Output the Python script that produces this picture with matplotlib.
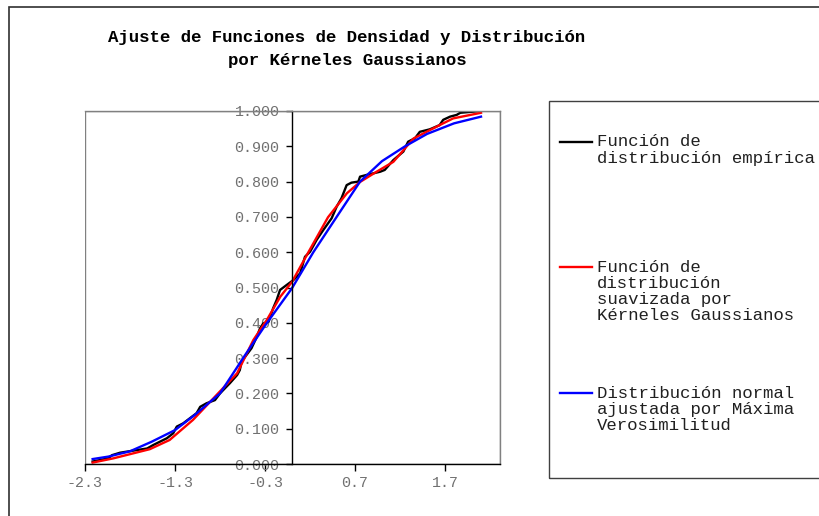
import matplotlib
matplotlib.use('Agg')
import matplotlib.pyplot as plt
from matplotlib.patches import Rectangle
from matplotlib.lines import Line2D

# --- datos ---
titulo = ['Ajuste de Funciones de Densidad y Distribución',
          'por Kérneles Gaussianos']

x_ticks = [-2.3, -1.3, -0.3, 0.7, 1.7]
y_ticks = [0.0, 0.1, 0.2, 0.3, 0.4, 0.5, 0.6, 0.7, 0.8, 0.9, 1.0]

# funcion de distribucion empirica (negro)
x_emp = [-2.215, -2.04, -2.0, -1.91, -1.61, -1.54, -1.39, -1.32, -1.28, -1.21,
         -1.06, -1.02, -0.95, -0.856, -0.80, -0.69, -0.61, -0.58, -0.56, -0.52,
         -0.45, -0.39, -0.356, -0.32, -0.26, -0.21, -0.17, -0.133, -0.06, 0.015,
         0.09, 0.144, 0.2, 0.274, 0.348, 0.44, 0.496, 0.55, 0.607, 0.66,
         0.737, 0.756, 0.83, 0.98, 1.03, 1.126, 1.237, 1.29, 1.367, 1.42,
         1.53, 1.64, 1.68, 1.756, 1.83, 1.87, 2.1]
y_emp = [0.007, 0.016, 0.025, 0.032, 0.044, 0.054, 0.073, 0.087, 0.106, 0.115,
         0.144, 0.162, 0.172, 0.181, 0.200, 0.229, 0.252, 0.266, 0.290, 0.304,
         0.328, 0.361, 0.384, 0.398, 0.403, 0.441, 0.465, 0.493, 0.507, 0.521,
         0.540, 0.587, 0.601, 0.635, 0.663, 0.696, 0.729, 0.753, 0.790, 0.797,
         0.800, 0.814, 0.819, 0.828, 0.833, 0.861, 0.885, 0.913, 0.923, 0.941,
         0.948, 0.960, 0.975, 0.984, 0.989, 0.995, 1.000]

# suavizada por kerneles gaussianos (rojo)
x_ker = [-2.215, -1.985, -1.58, -1.36, -1.1, -0.84, -0.61, -0.43, -0.28, -0.13,
         0.0, 0.18, 0.40, 0.61, 0.756, 0.94, 1.126, 1.35, 1.64, 1.79, 2.1]
y_ker = [0.004, 0.016, 0.042, 0.068, 0.125, 0.195, 0.257, 0.351, 0.408, 0.474,
         0.516, 0.599, 0.699, 0.767, 0.799, 0.828, 0.856, 0.922, 0.960, 0.979, 0.995]

# normal ajustada por maxima verosimilitud (azul)
x_nor = [-2.215, -2.04, -1.8, -1.56, -1.3, -1.08, -0.8, -0.52, -0.3, 0.0,
         0.237, 0.496, 0.756, 1.0, 1.256, 1.5, 1.8, 2.1]
y_nor = [0.014, 0.021, 0.036, 0.063, 0.096, 0.139, 0.200, 0.309, 0.392, 0.498,
         0.600, 0.700, 0.800, 0.858, 0.900, 0.935, 0.965, 0.984]

series = [(x_emp, y_emp, '#000000'), (x_ker, y_ker, '#ff0000'), (x_nor, y_nor, '#0000ff')]
leyenda = [['Función de', 'distribución empírica'],
           ['Función de', 'distribución', 'suavizada por', 'Kérneles Gaussianos'],
           ['Distribución normal', 'ajustada por Máxima', 'Verosimilitud']]

W, H = 820, 516
FONT = 'Liberation Mono'
GRIS = '#808080'

def fx(px):
    return px / W

def fy(py):
    return 1 - py / H

fig = plt.figure(figsize=(W / 100, H / 100), dpi=100)

# marco exterior del area del grafico (cortado a la derecha y abajo)
fig.add_artist(Rectangle((fx(9.5), fy(560)), 1.0, fy(6.5) - fy(560),
                         transform=fig.transFigure, fill=False,
                         edgecolor='#303030', linewidth=1.2, clip_on=False))

ax = fig.add_axes([fx(85), fy(464), fx(500) - fx(85), fy(111) - fy(464)])
for xs, ys, c in series:
    ax.plot(xs, ys, color=c, linewidth=1.7)

ax.set_xlim(-2.3, 2.311)
ax.set_ylim(0, 1)

# eje y en x=0, marco gris alrededor del area de trazado
ax.spines['left'].set_position(('data', 0))
ax.spines['left'].set_color('black')
ax.spines['left'].set_linewidth(1.0)
ax.spines['bottom'].set_color('black')
ax.spines['bottom'].set_linewidth(1.0)
for s in ['top', 'right']:
    ax.spines[s].set_color(GRIS)
    ax.spines[s].set_linewidth(1.0)
ax.add_patch(Rectangle((0, 0), 1, 1, transform=ax.transAxes, fill=False,
                       edgecolor=GRIS, linewidth=1.0, zorder=0.5))

ax.set_xticks(x_ticks)
ax.set_xticklabels(['%.1f' % v for v in x_ticks])
ax.set_yticks(y_ticks)
ax.set_yticklabels(['%.3f' % v for v in y_ticks])
ax.tick_params(axis='x', direction='out', length=5, width=1, pad=3.5,
               labelsize=10.8, labelcolor='#707070')
ax.tick_params(axis='y', direction='out', length=4, width=1, pad=5,
               labelsize=10.8, labelcolor='#707070')
for lab in ax.get_xticklabels() + ax.get_yticklabels():
    lab.set_fontfamily(FONT)

# titulo
fig.text(fx(347), fy(42), titulo[0], ha='center', va='baseline',
         fontfamily=FONT, fontweight='bold', fontsize=12.5)
fig.text(fx(347), fy(65), titulo[1], ha='center', va='baseline',
         fontfamily=FONT, fontweight='bold', fontsize=12.5)

# leyenda dibujada a mano
fig.add_artist(Rectangle((fx(549), fy(478)), 1.0, fy(101) - fy(478),
                         transform=fig.transFigure, fill=False,
                         edgecolor='#404040', linewidth=1.0, clip_on=False))
y_lineas = [141.7, 267, 393]
for (xs, ys, c), lineas, yl in zip(series, leyenda, y_lineas):
    fig.add_artist(Line2D([fx(560), fx(592)], [fy(yl), fy(yl)], color=c,
                          linewidth=1.7, transform=fig.transFigure))
    for i, t in enumerate(lineas):
        fig.text(fx(597), fy(yl + 4.5 + 16.3 * i), t, ha='left', va='baseline',
                 fontfamily=FONT, fontsize=12.5, color='#202020')

fig.savefig('out.png', dpi=100)
